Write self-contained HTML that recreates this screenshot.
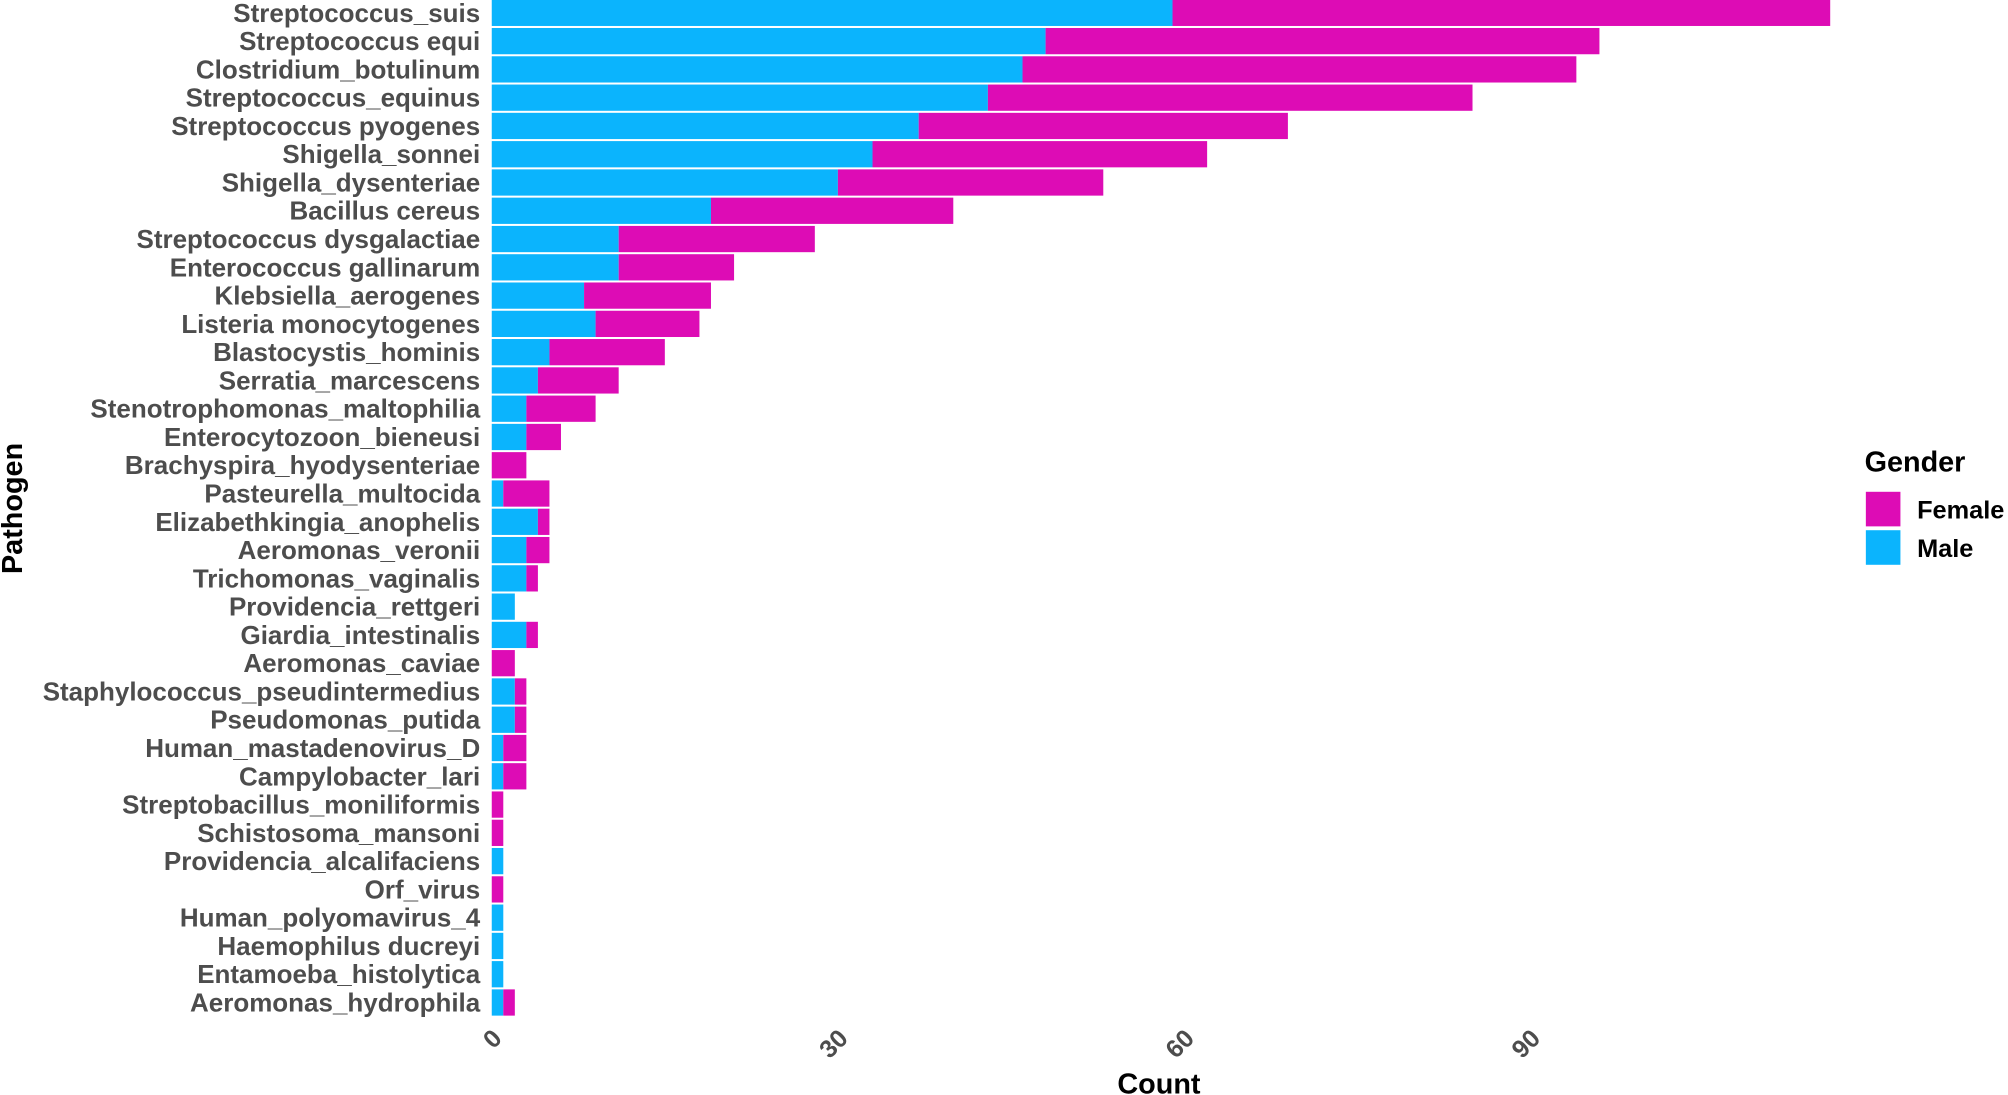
<!DOCTYPE html>
<html><head><meta charset="utf-8"><style>
html,body{margin:0;padding:0;background:#fff;width:2008px;height:1095px;overflow:hidden}
svg{display:block;font-family:"Liberation Sans",sans-serif}
</style></head><body>
<svg id="chart" width="2008" height="1095" viewBox="0 0 1568 855" xmlns="http://www.w3.org/2000/svg">
<g id="plot"></g>
<text x="905" y="854" text-anchor="middle" font-size="22.5" font-weight="bold" fill="#000">Count</text>
<text transform="translate(17,397) rotate(-90)" text-anchor="middle" font-size="22.5" font-weight="bold" fill="#000">Pathogen</text>
<g>
<text x="1456" y="368" font-size="22.5" font-weight="bold" fill="#000">Gender</text>
<rect x="1457" y="384" width="27" height="27" fill="#dd0cb5"/>
<text x="1497" y="405" font-size="19.8" font-weight="bold" fill="#000">Female</text>
<rect x="1457" y="414" width="27" height="27" fill="#0bb4fd"/>
<text x="1497" y="435" font-size="19.8" font-weight="bold" fill="#000">Male</text>
</g>
</svg>
<script>
const categories = ["Streptococcus_suis","Streptococcus equi","Clostridium_botulinum","Streptococcus_equinus","Streptococcus pyogenes","Shigella_sonnei","Shigella_dysenteriae","Bacillus cereus","Streptococcus dysgalactiae","Enterococcus gallinarum","Klebsiella_aerogenes","Listeria monocytogenes","Blastocystis_hominis","Serratia_marcescens","Stenotrophomonas_maltophilia","Enterocytozoon_bieneusi","Brachyspira_hyodysenteriae","Pasteurella_multocida","Elizabethkingia_anophelis","Aeromonas_veronii","Trichomonas_vaginalis","Providencia_rettgeri","Giardia_intestinalis","Aeromonas_caviae","Staphylococcus_pseudintermedius","Pseudomonas_putida","Human_mastadenovirus_D","Campylobacter_lari","Streptobacillus_moniliformis","Schistosoma_mansoni","Providencia_alcalifaciens","Orf_virus","Human_polyomavirus_4","Haemophilus ducreyi","Entamoeba_histolytica","Aeromonas_hydrophila"];
const maleValues = [59,48,46,43,37,33,30,19,11,11,8,9,5,4,3,3,0,1,4,3,3,2,3,0,2,2,1,1,0,0,1,0,1,1,1,1];
const femaleValues = [57,48,48,42,32,29,23,21,17,10,11,9,10,7,6,3,3,4,1,2,1,0,1,2,1,1,2,2,1,1,0,1,0,0,0,1];
const xTicks = [0,30,60,90];

const NS = "http://www.w3.org/2000/svg";
const plot = document.getElementById('plot');
const x0 = 384, pxPerUnit = 9.01;
const xScale = v => x0 + v * pxPerUnit;
const yCenter = i => 10 + i * 22.08;
const barH = 20.5;
function mk(tag, attrs){const e=document.createElementNS(NS,tag);for(const k in attrs)e.setAttribute(k,attrs[k]);return e;}

categories.forEach((c,i)=>{
  const yc = yCenter(i);
  const lab = mk('text',{x:375,y:yc+7,'text-anchor':'end','font-size':'20.3','font-weight':'bold',fill:'#4d4d4d'});
  
  
  lab.textContent = c; plot.appendChild(lab);
  const m = maleValues[i], f = femaleValues[i];
  if (m > 0) {
    const r = mk('rect',{x:xScale(0),y:yc-barH/2,width:xScale(m)-xScale(0),height:barH,fill:'#0bb4fd'});
    
    
    plot.appendChild(r);
  }
  if (f > 0) {
    const r = mk('rect',{x:xScale(m),y:yc-barH/2,width:xScale(m+f)-xScale(m),height:barH,fill:'#dd0cb5'});
    
    
    plot.appendChild(r);
  }
});
xTicks.forEach(t=>{
  const x = xScale(t);
  const tl = mk('text',{transform:`translate(${x+9},${812}) rotate(-45)`,'text-anchor':'end','font-size':'19.6','font-weight':'bold',fill:'#4d4d4d'});
  
  
  tl.textContent = t; plot.appendChild(tl);
});
</script>
</body></html>
